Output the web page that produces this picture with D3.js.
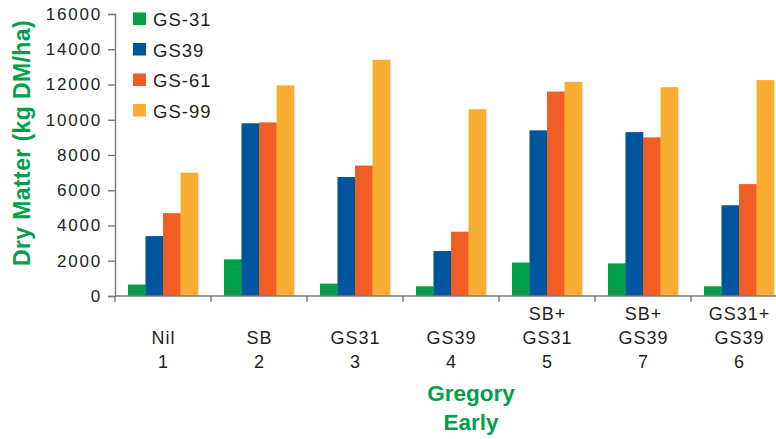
<!DOCTYPE html>
<html>
<head>
<meta charset="utf-8">
<script src="https://cdn.jsdelivr.net/npm/d3@7"></script>
<style>
  html, body { margin: 0; padding: 0; background: #fff; }
  svg { display: block; font-family: "Liberation Sans", Arial, Helvetica, sans-serif; }
</style>
</head>
<body>
<svg id="chart" width="776" height="439"></svg>
<script>
// Treatment groups (x axis), each label split into lines
const categories = [
  ["Nil", "1"],
  ["SB", "2"],
  ["GS31", "3"],
  ["GS39", "4"],
  ["SB+", "GS31", "5"],
  ["SB+", "GS39", "7"],
  ["GS31+", "GS39", "6"]
];
const seriesNames = ["GS-31", "GS39", "GS-61", "GS-99"];
const seriesColors = ["#00a04b", "#00569e", "#ef5f25", "#f9ae33"];

// Dry matter (kg DM/ha) per growth stage, one value per treatment
const gs31 = [650, 2080, 700, 550, 1900, 1850, 550];
const gs39 = [3400, 9800, 6750, 2550, 9400, 9300, 5150];
const gs61 = [4700, 9850, 7400, 3650, 11600, 9000, 6350];
const gs99 = [7000, 11950, 13400, 10600, 12150, 11850, 12250];
const seriesValues = [gs31, gs39, gs61, gs99];

const yTicks = [0, 2000, 4000, 6000, 8000, 10000, 12000, 14000, 16000];

const svg = d3.select("#chart");
const plotLeft = 115, plotTop = 14, plotBottom = 296;
const bandW = 96;
const plotRight = plotLeft + bandW * categories.length;
const axisColor = "#7a7a7a";
const textColor = "#231f20";

const x = d3.scaleBand()
  .domain(d3.range(categories.length))
  .range([plotLeft, plotRight])
  .paddingInner(0)
  .paddingOuter(0);

// Bars within a group touch each other, with a gap at both ends
const xInner = d3.scaleBand()
  .domain(d3.range(seriesNames.length))
  .range([0, x.bandwidth()])
  .paddingInner(0)
  .paddingOuter(0.74);

const y = d3.scaleLinear().domain([0, 16000]).range([plotBottom, plotTop]);

// Bars
const groups = svg.append("g").selectAll("g")
  .data(categories)
  .join("g")
  .attr("transform", (d, i) => `translate(${x(i)},0)`);

groups.selectAll("rect")
  .data((d, i) => seriesValues.map((vals, s) => ({ s, v: vals[i] })))
  .join("rect")
  .attr("x", d => xInner(d.s))
  .attr("width", xInner.bandwidth() + 0.3)
  .attr("y", d => y(d.v))
  .attr("height", d => y(0) - y(d.v))
  .attr("fill", d => seriesColors[d.s]);

// Y axis
const yAxis = svg.append("g")
  .attr("transform", `translate(${plotLeft},0)`)
  .call(d3.axisLeft(y).tickValues(yTicks).tickSize(7).tickPadding(6).tickFormat(d3.format("d")));
yAxis.select(".domain").attr("stroke", axisColor).attr("stroke-width", 1.4);
yAxis.selectAll(".tick line").attr("stroke", axisColor).attr("stroke-width", 1.4);
yAxis.selectAll(".tick text")
  .attr("fill", textColor)
  .style("font-size", "17px")
  .style("letter-spacing", "1.8px");

// X axis line and group separators
const xAxis = svg.append("g").attr("transform", `translate(0,${plotBottom})`);
xAxis.append("line")
  .attr("x1", plotLeft).attr("x2", plotRight)
  .attr("stroke", axisColor).attr("stroke-width", 1.4);
xAxis.selectAll("line.sep")
  .data(d3.range(categories.length + 1))
  .join("line")
  .attr("class", "sep")
  .attr("x1", i => plotLeft + i * x.step()).attr("x2", i => plotLeft + i * x.step())
  .attr("y1", 0).attr("y2", 6)
  .attr("stroke", axisColor).attr("stroke-width", 1.4);

// Category labels, bottom-aligned lines
const lineH = 24;
const labels = svg.append("g").selectAll("text")
  .data(categories)
  .join("text")
  .attr("text-anchor", "middle")
  .attr("fill", textColor)
  .style("font-size", "18px")
  .style("letter-spacing", "1px");
labels.each(function(lines, i) {
  const t = d3.select(this);
  const cx = x(i) + x.bandwidth() / 2 + 0.5;
  lines.forEach((ln, k) => {
    t.append("tspan")
      .attr("x", cx)
      .attr("y", 368 - (lines.length - 1 - k) * lineH)
      .text(ln);
  });
});

// Axis titles
svg.append("text")
  .attr("transform", "translate(30,143) rotate(-90)")
  .attr("text-anchor", "middle")
  .attr("fill", "#00a04b")
  .style("font-size", "23px")
  .style("font-weight", "bold")
  .style("letter-spacing", "0.4px")
  .text("Dry Matter (kg DM/ha)");

svg.append("text")
  .attr("text-anchor", "middle")
  .attr("fill", "#00a04b")
  .style("font-size", "22.5px")
  .style("font-weight", "bold")
  .selectAll("tspan")
  .data(["Gregory", "Early"])
  .join("tspan")
  .attr("x", 471)
  .attr("y", (d, i) => 401 + i * 29)
  .text(d => d);

// Legend
const legend = svg.append("g").attr("transform", "translate(133,12.5)");
const items = legend.selectAll("g")
  .data(seriesNames)
  .join("g")
  .attr("transform", (d, i) => `translate(0,${i * 30.5})`);
items.append("rect")
  .attr("width", 13).attr("height", 12.5)
  .attr("fill", (d, i) => seriesColors[i]);
items.append("text")
  .attr("x", 20).attr("y", 13.5)
  .attr("fill", textColor)
  .style("font-size", "18.5px")
  .style("letter-spacing", "1px")
  .text(d => d);
</script>
</body>
</html>
